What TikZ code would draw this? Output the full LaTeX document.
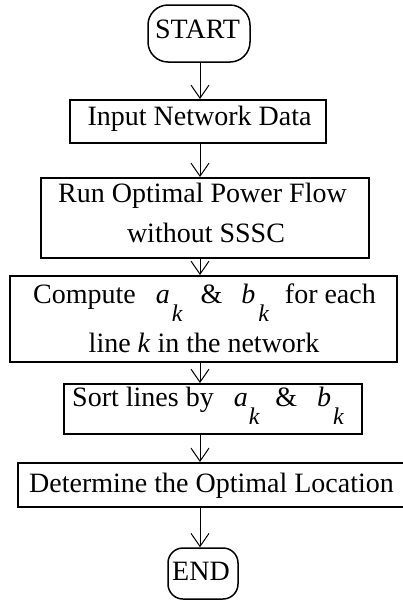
\documentclass[tikz,border=0pt]{standalone}
\usepackage{fontspec}
\setmainfont{Liberation Serif}
\usetikzlibrary{arrows.meta}
\newcommand{\sbk}{\smash{\raisebox{-18pt}{\fontsize{24}{24}\selectfont\itshape k}}}
\begin{document}
\begin{tikzpicture}[x=1pt,y=-1pt,
  box/.style={draw, line width=2pt, inner sep=0pt},
  term/.style={draw, line width=1.5pt, inner sep=0pt},
  txt/.style={font=\fontsize{28}{34}\selectfont, inner sep=0pt},
  arr/.style={-{Straight Barb[length=13pt,width=18pt,line width=1pt]}, line width=1pt}]
\useasboundingbox (0,0) rectangle (403,603);
% boxes
\node[term, rounded corners=20pt, minimum width=102pt, minimum height=57pt] (start) at (199,33.5) {};
\node[box, minimum width=256pt, minimum height=43pt] (input) at (198,121.5) {};
\node[box, minimum width=328pt, minimum height=80pt] (run) at (205,218) {};
\node[box, minimum width=387pt, minimum height=86pt] (comp) at (203.5,319) {};
\node[box, minimum width=298pt, minimum height=50pt] (sort) at (213,409) {};
\node[box, minimum width=392pt, minimum height=44pt] (det) at (214,485) {};
\node[term, rounded corners=15pt, minimum width=70pt, minimum height=51pt] (end) at (203,573.5) {};
% texts
\node[txt, anchor=base] (tstart) at (197.5,38) {START};
\node[txt, anchor=base] (tinput) at (199.5,125) {Input Network Data};
\node[txt, anchor=base] (trun1) at (202.5,202) {Run Optimal Power Flow};
\node[txt, anchor=base] (trun2) at (206,242) {without SSSC};
\node[txt, anchor=base west] (tcomp1) at (33,303) {Compute\hspace{20pt}\textit{a}\hspace{2pt}\sbk\hspace{18pt}\&\hspace{19pt}\textit{b}\hspace{3pt}\sbk\hspace{16pt}for each};
\node[txt, anchor=base] (tcomp2) at (204,352) {line \textit{k} in the network};
\node[txt, anchor=base west] (tsort) at (72,406) {Sort lines by\hspace{20pt}\textit{a}\hspace{1pt}\sbk\hspace{16pt}\&\hspace{20pt}\textit{b}\hspace{2pt}\sbk};
\node[txt, anchor=base] (tdet) at (211.5,492) {Determine the Optimal Location};
\node[txt, anchor=base] (tend) at (201,580) {END};
% connectors
\coordinate (ax) at (200,0);
\draw[arr] (ax |- start.south) -- (ax |- input.north);
\draw[arr] (ax |- input.south) -- (ax |- run.north);
\draw[arr] (ax |- run.south) -- (ax |- comp.north);
\draw[arr] (ax |- comp.south) -- (ax |- sort.north);
\draw[arr] (ax |- sort.south) -- (ax |- det.north);
\draw[arr] (ax |- det.south) -- (ax |- end.north);
\end{tikzpicture}
\end{document}
